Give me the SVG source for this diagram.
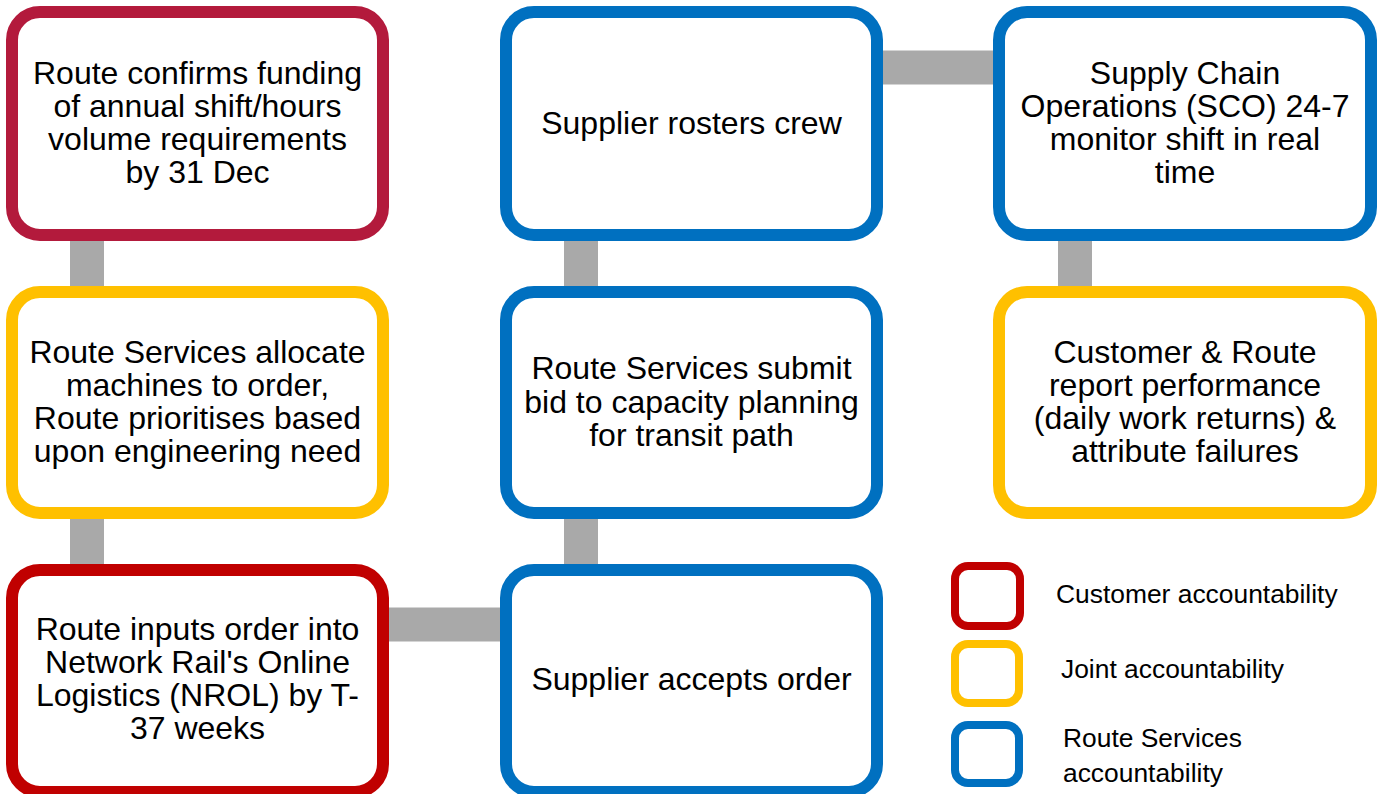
<svg xmlns="http://www.w3.org/2000/svg" width="1381" height="794" viewBox="0 0 1381 794">
<style>
.box{fill:#fff;stroke-width:12}
.red{stroke:#C00000}
.crim{stroke:#B31A3C}
.yel{stroke:#FFC000}
.blu{stroke:#0070C0}
.lg{fill:#fff;stroke-width:8}
.t{font-family:"Liberation Sans",Arial,sans-serif;font-size:32px;fill:#000;text-anchor:middle}
.l{font-family:"Liberation Sans",Arial,sans-serif;font-size:26.4px;fill:#000}
.c{stroke:#A9A9A9;stroke-width:34;fill:none}
</style>
<rect width="1381" height="794" fill="#fff"/>
<g id="connectors">
<line class="c" x1="87" y1="235" x2="87" y2="292"/>
<line class="c" x1="87" y1="513" x2="87" y2="570"/>
<line class="c" x1="581" y1="235" x2="581" y2="292"/>
<line class="c" x1="581" y1="513" x2="581" y2="570"/>
<line class="c" x1="1075" y1="235" x2="1075" y2="292"/>
<line class="c" x1="383" y1="624.5" x2="506" y2="624.5"/>
<line class="c" x1="877" y1="67.5" x2="999" y2="67.5"/>
</g>
<g id="n1">
<rect class="box crim" x="12" y="12" width="371" height="223" rx="28"/>
<text class="t"><tspan x="197.5" y="83.5">Route confirms funding</tspan><tspan x="197.5" y="116.8">of annual shift/hours</tspan><tspan x="197.5" y="150.1">volume requirements</tspan><tspan x="197.5" y="183.4">by 31 Dec</tspan></text>
</g>
<g id="n2">
<rect class="box yel" x="12" y="292" width="371" height="221" rx="28"/>
<text class="t"><tspan x="197.5" y="362.5">Route Services allocate</tspan><tspan x="197.5" y="395.8">machines to order,</tspan><tspan x="197.5" y="429.1">Route prioritises based</tspan><tspan x="197.5" y="462.4">upon engineering need</tspan></text>
</g>
<g id="n3">
<rect class="box red" x="12" y="570" width="371" height="222" rx="28"/>
<text class="t"><tspan x="197.5" y="639.5">Route inputs order into</tspan><tspan x="197.5" y="672.8">Network Rail's Online</tspan><tspan x="197.5" y="706.1">Logistics (NROL) by T-</tspan><tspan x="197.5" y="739.4">37 weeks</tspan></text>
</g>
<g id="n4">
<rect class="box blu" x="506" y="570" width="371" height="222" rx="28"/>
<text class="t" x="691.5" y="690">Supplier accepts order</text>
</g>
<g id="n5">
<rect class="box blu" x="506" y="292" width="371" height="221" rx="28"/>
<text class="t"><tspan x="691.5" y="379.2">Route Services submit</tspan><tspan x="691.5" y="412.5">bid to capacity planning</tspan><tspan x="691.5" y="445.8">for transit path</tspan></text>
</g>
<g id="n6">
<rect class="box blu" x="506" y="12" width="371" height="223" rx="28"/>
<text class="t" x="691.5" y="134">Supplier rosters crew</text>
</g>
<g id="n7">
<rect class="box blu" x="999" y="12" width="372" height="223" rx="28"/>
<text class="t"><tspan x="1185" y="83.5">Supply Chain</tspan><tspan x="1185" y="116.8">Operations (SCO) 24-7</tspan><tspan x="1185" y="150.1">monitor shift in real</tspan><tspan x="1185" y="183.4">time</tspan></text>
</g>
<g id="n8">
<rect class="box yel" x="999" y="292" width="372" height="221" rx="28"/>
<text class="t"><tspan x="1185" y="362.5">Customer &amp; Route</tspan><tspan x="1185" y="395.8">report performance</tspan><tspan x="1185" y="429.1">(daily work returns) &amp;</tspan><tspan x="1185" y="462.4">attribute failures</tspan></text>
</g>
<g id="legend">
<rect class="lg red" x="955" y="566" width="65" height="60" rx="13"/>
<rect class="lg yel" x="955" y="644" width="64" height="59" rx="13"/>
<rect class="lg blu" x="955" y="725" width="64" height="58" rx="13"/>
<text class="l" x="1056" y="603">Customer accountability</text>
<text class="l" x="1061" y="678">Joint accountability</text>
<text class="l"><tspan x="1063" y="747">Route Services</tspan><tspan x="1063" y="782">accountability</tspan></text>
</g>
</svg>
